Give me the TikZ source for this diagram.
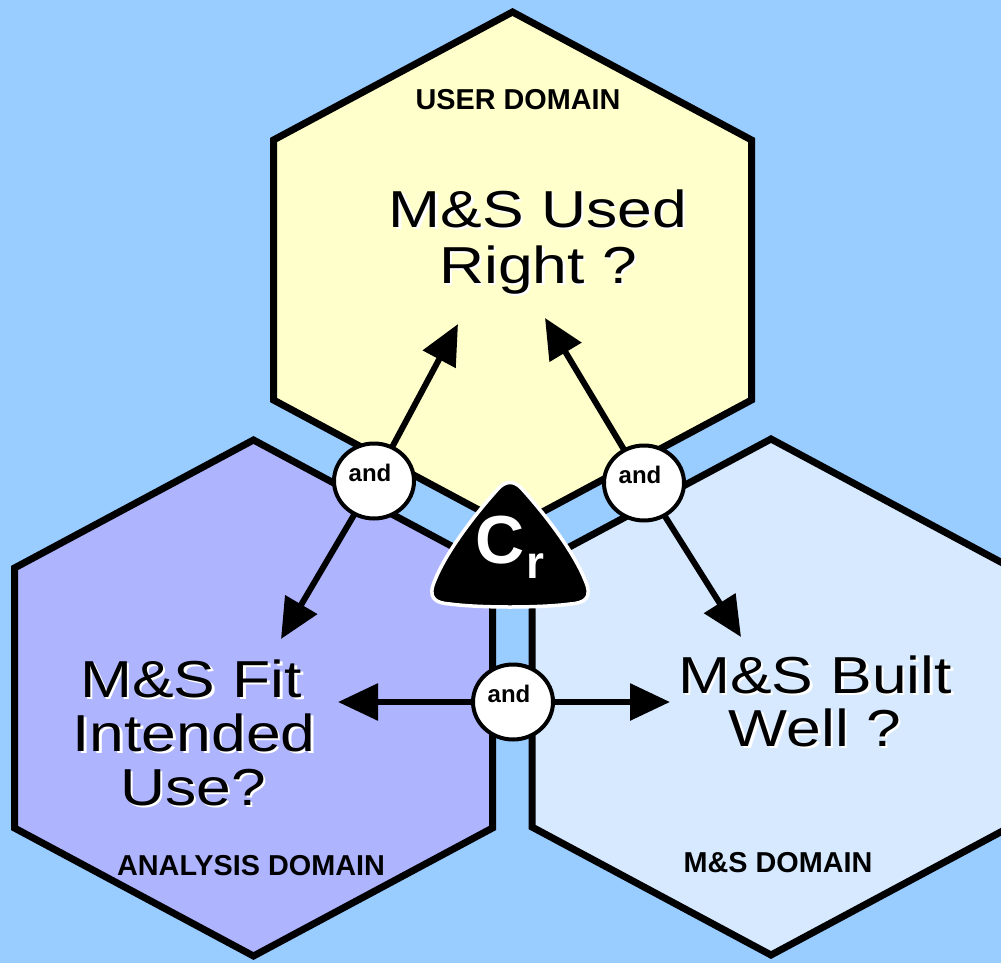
\documentclass[tikz,border=0pt]{standalone}
\usepackage{fontspec}
\setmainfont{Liberation Sans}
\newfontfamily\bigf[FakeStretch=1.2]{Liberation Sans}
\usetikzlibrary{arrows.meta,shapes.geometric}
\definecolor{bgblue}{HTML}{99CCFF}
\definecolor{userfill}{HTML}{FFFFCC}
\definecolor{anafill}{HTML}{AFB4FF}
\definecolor{msfill}{HTML}{D6E9FF}
\pgfdeclarelayer{bg}
\pgfsetlayers{bg,main}
\tikzset{
  hexline/.style={draw=black, line width=7pt, line join=miter},
  arr/.style={line width=6pt, -{Triangle[length=40pt,width=36pt]}},
  andc/.style={ellipse, draw=black, fill=white, line width=4pt, minimum width=80pt, minimum height=75pt, inner sep=0pt},
  andt/.style={font=\bfseries\fontsize{24}{24}\selectfont, inner sep=0pt},
  bigtxt/.style={font=\bigf\fontsize{52}{55}\selectfont, anchor=base, inner sep=0pt},
  domtxt/.style={font=\bfseries\fontsize{28.8}{29}\selectfont, anchor=base, inner sep=0pt},
  crshape/.style={fill=black, draw=white, line width=3.5pt}
}
\newcommand{\hexagonat}[3]{\draw[hexline, fill=#3] (#1,#2-258) -- ++(239,128) -- ++(0,260) -- ++(-239,128) -- ++(-239,-128) -- ++(0,-260) -- cycle;}
\newcommand{\shadowed}[1]{\rlap{\kern2.5pt\raisebox{-2.5pt}{\color{white}#1}}#1}
\begin{document}
\begin{tikzpicture}[x=1pt,y=-1pt]
\useasboundingbox (0,0) rectangle (1001,963);
% and-nodes (main layer)
\node[andc] (andA) at (374,481) {};
\node[andc] (andB) at (644,483) {};
\node[andc] (andC) at (513,702) {};
\node[andt] (andAt) at ([shift={(-4,-8)}]andA.center) {and};
\node[andt] (andBt) at ([shift={(-4,-8)}]andB.center) {and};
\node[andt] (andCt) at ([shift={(-4,-8)}]andC.center) {and};
% arrow end points
\coordinate (tipUA) at (458,324);
\coordinate (tipUB) at (545,318);
\coordinate (tipL) at (281,639);
\coordinate (tipR) at (741,637);
\coordinate (tipCL) at (338,702);
\coordinate (tipCR) at (670,702);
\begin{pgfonlayer}{bg}
\fill[bgblue] (0,0) rectangle (1001,963);
\hexagonat{512.5}{270}{userfill}
\hexagonat{253.5}{698}{anafill}
\hexagonat{771}{697}{msfill}
\draw[arr] (andA.center) -- (tipUA);
\draw[arr] (andA.center) -- (tipL);
\draw[arr] (andB.center) -- (tipUB);
\draw[arr] (andB.center) -- (tipR);
\draw[arr] (andC.center) -- (tipCL);
\draw[arr] (andC.center) -- (tipCR);
\end{pgfonlayer}
% Cr triangle
\draw[crshape] (497,490) .. controls (505,480) and (515,480) .. (523,490)
  .. controls (550,520) and (575,555) .. (585,580)
  .. controls (593,598) and (585,603) .. (570,604)
  .. controls (540,608) and (480,608) .. (450,604)
  .. controls (435,603) and (427,598) .. (435,580)
  .. controls (445,555) and (470,520) .. (497,490) -- cycle;
\node[white, font=\bfseries\fontsize{68}{68}\selectfont, anchor=base, inner sep=0pt] (crC) at (500,563) {C};
\node[white, font=\bfseries\fontsize{46}{46}\selectfont, anchor=base, inner sep=0pt] (crR) at (535,578) {r};
% domain labels
\node[domtxt] (userlbl) at (518,110) {USER DOMAIN};
\node[domtxt] (analbl) at (251,875) {ANALYSIS DOMAIN};
\node[domtxt] (mslbl) at (778,872) {M\&S DOMAIN};
% big questions
\node[bigtxt] (q1a) at (538,227) {\shadowed{M\&S Used}};
\node[bigtxt] (q1b) at (538,283) {\shadowed{Right ?}};
\node[bigtxt] (q2a) at (191,697) {\shadowed{M\&S Fit}};
\node[bigtxt] (q2b) at (194,751) {\shadowed{Intended}};
\node[bigtxt] (q2c) at (193,805) {\shadowed{Use?}};
\node[bigtxt] (q3a) at (815,693) {\shadowed{M\&S Built}};
\node[bigtxt] (q3b) at (815,746) {\shadowed{Well ?}};
\end{tikzpicture}
\end{document}
